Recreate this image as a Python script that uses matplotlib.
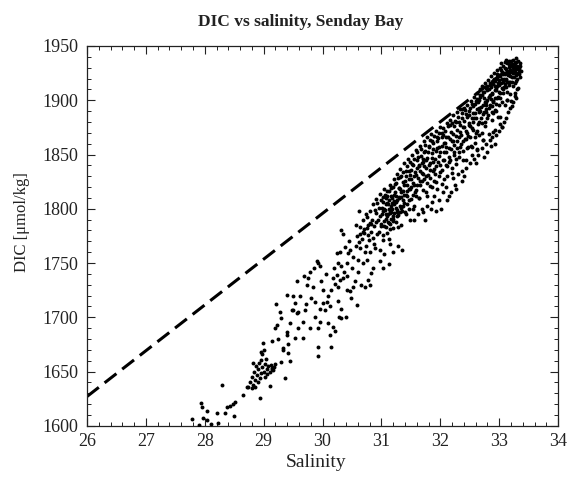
import matplotlib
matplotlib.use("Agg")
import matplotlib.pyplot as plt
from matplotlib.ticker import MultipleLocator

# puntos (salinidad, DIC [umol/kg])
bajos = [
    (27.78, 1606), (27.94, 1621), (27.95, 1617), (28.03, 1614), (27.97, 1607),
    (28.04, 1605), (28.22, 1603), (28.20, 1612), (28.29, 1638), (28.34, 1612),
    (28.38, 1617), (28.43, 1618), (28.48, 1620), (28.52, 1622), (28.50, 1609),
    (28.65, 1628), (28.71, 1636), (28.94, 1626), (28.10, 1602), (27.90, 1601),
]

grupo_29 = [
    (28.77, 1640), (28.80, 1645), (28.83, 1650), (28.85, 1642), (28.87, 1655),
    (28.88, 1647), (28.90, 1652), (28.92, 1658), (28.93, 1644), (28.95, 1649),
    (28.96, 1661), (28.97, 1654), (28.98, 1666), (29.00, 1650), (29.00, 1670),
    (29.02, 1645), (29.03, 1657), (29.05, 1652), (29.06, 1648), (29.08, 1655),
    (29.10, 1650), (29.12, 1656), (29.14, 1653), (29.16, 1651), (29.18, 1654),
    (28.86, 1636), (28.82, 1638), (28.90, 1640), (29.04, 1662), (28.95, 1668),
    (29.20, 1657), (29.10, 1637), (28.99, 1676), (28.73, 1636), (28.80, 1635),
    (29.14, 1652), (28.82, 1658),
]

medios = [
    (29.14, 1678), (29.19, 1690), (29.22, 1693), (29.21, 1712), (29.30, 1699),
    (29.39, 1686), (29.45, 1695), (29.48, 1707), (29.33, 1670), (29.41, 1667),
    (29.36, 1644), (29.30, 1659), (29.56, 1704), (29.56, 1733), (29.73, 1730),
    (29.76, 1736), (29.39, 1721), (29.53, 1713), (29.50, 1707), (29.59, 1705),
    (29.70, 1707), (29.39, 1684), (29.53, 1681), (29.67, 1681), (29.33, 1672),
    (29.42, 1675), (29.79, 1690), (29.93, 1690), (29.93, 1673), (29.81, 1718),
    (29.87, 1714), (29.96, 1708), (30.01, 1713), (30.07, 1714), (30.13, 1710),
    (30.04, 1707), (29.98, 1733), (30.01, 1725), (30.15, 1725), (30.21, 1731),
    (30.27, 1728), (30.18, 1736), (30.24, 1739), (30.30, 1734), (30.35, 1736),
    (30.41, 1725), (30.47, 1724), (30.49, 1718), (30.58, 1711), (30.32, 1708),
    (30.32, 1699), (30.18, 1691), (30.21, 1687), (30.13, 1684), (30.15, 1673),
    (29.96, 1747), (29.93, 1750), (30.24, 1759), (30.30, 1760), (30.27, 1750),
    (30.32, 1747), (30.41, 1750), (30.44, 1759), (30.47, 1762), (30.52, 1756),
    (30.61, 1753), (30.64, 1764), (30.35, 1777), (30.32, 1780), (30.64, 1777),
    (30.69, 1779), (30.75, 1782), (30.80, 1787), (30.66, 1730), (30.72, 1728),
    (30.78, 1734), (30.80, 1730), (30.83, 1741), (30.86, 1745), (30.75, 1753),
    (30.80, 1760), (30.89, 1764), (29.93, 1664), (29.85, 1745), (29.90, 1752),
    (29.78, 1742), (29.62, 1720), (29.68, 1738), (29.72, 1712), (29.84, 1728),
    (29.88, 1700), (30.05, 1740), (30.09, 1720), (30.10, 1695), (30.20, 1745),
    (30.26, 1715), (30.37, 1742), (30.38, 1765), (30.42, 1738), (30.45, 1770),
    (30.50, 1745), (30.55, 1733), (30.57, 1785), (30.60, 1742), (30.62, 1798),
    (30.68, 1750), (30.40, 1700), (30.52, 1728), (30.28, 1700), (29.96, 1696),
    (29.66, 1696), (29.58, 1690), (29.25, 1680), (29.28, 1705), (29.45, 1660),
    (29.50, 1720), (30.98, 1752), (31.05, 1758), (31.12, 1749), (31.20, 1760),
    (31.28, 1766), (31.35, 1762), (31.15, 1768), (31.02, 1745),
]

banda = [
    (30.56, 1766), (30.58, 1775), (30.62, 1769), (30.63, 1783), (30.67, 1772),
    (30.68, 1790), (30.71, 1778), (30.73, 1766), (30.74, 1795), (30.77, 1785),
    (30.79, 1771), (30.81, 1798), (30.82, 1779), (30.84, 1790), (30.86, 1804),
    (30.87, 1768), (30.88, 1784), (30.90, 1796), (30.91, 1809), (30.92, 1777),
    (30.94, 1790), (30.95, 1801), (30.97, 1814), (30.98, 1762), (30.99, 1784),
    (31.01, 1795), (31.02, 1806), (31.03, 1776), (31.04, 1789), (31.05, 1818),
    (31.06, 1799), (31.07, 1783), (31.08, 1810), (31.09, 1793), (31.11, 1804),
    (31.12, 1772), (31.13, 1787), (31.14, 1822), (31.15, 1798), (31.16, 1812),
    (31.17, 1791), (31.18, 1805), (31.19, 1782), (31.21, 1827), (31.22, 1796),
    (31.23, 1815), (31.24, 1801), (31.25, 1788), (31.26, 1832), (31.27, 1808),
    (31.28, 1794), (31.29, 1819), (31.31, 1803), (31.32, 1837), (31.33, 1811),
    (31.34, 1785), (31.35, 1798), (31.36, 1825), (31.37, 1816), (31.38, 1842),
    (31.39, 1805), (31.41, 1830), (31.42, 1795), (31.43, 1812), (31.44, 1822),
    (31.45, 1846), (31.46, 1808), (31.47, 1835), (31.48, 1818), (31.49, 1790),
    (31.51, 1827), (31.52, 1850), (31.53, 1813), (31.54, 1840), (31.55, 1822),
    (31.56, 1803), (31.57, 1834), (31.58, 1854), (31.59, 1817), (31.61, 1845),
    (31.62, 1828), (31.63, 1810), (31.64, 1839), (31.65, 1858), (31.66, 1822),
    (31.67, 1849), (31.68, 1833), (31.69, 1800), (31.71, 1843), (31.72, 1862),
    (31.73, 1827), (31.74, 1853), (31.75, 1815), (31.76, 1838), (31.77, 1866),
    (31.78, 1847), (31.79, 1831), (31.81, 1857), (31.82, 1821), (31.83, 1842),
    (31.84, 1869), (31.85, 1806), (31.86, 1851), (31.87, 1835), (31.88, 1861),
    (31.89, 1826), (31.91, 1846), (31.92, 1872), (31.93, 1839), (31.94, 1856),
    (31.95, 1818), (31.96, 1865), (31.97, 1830), (31.98, 1849), (31.99, 1875),
    (32.01, 1800), (32.02, 1858), (32.03, 1836), (32.04, 1868), (32.05, 1874),
    (32.06, 1845), (32.07, 1827), (32.08, 1861), (32.09, 1852), (32.11, 1879),
    (32.12, 1839), (32.13, 1866), (32.14, 1812), (32.15, 1856), (32.16, 1882),
    (32.17, 1845), (32.18, 1871), (32.19, 1833), (32.21, 1862), (32.22, 1886),
    (32.23, 1850), (32.24, 1876), (32.25, 1822), (32.26, 1867), (32.27, 1841),
    (32.28, 1889), (32.29, 1856), (32.31, 1880), (32.32, 1848), (32.33, 1871),
    (32.34, 1892), (32.35, 1860), (32.36, 1835), (32.37, 1884), (32.38, 1853),
    (32.39, 1875), (32.41, 1893), (32.42, 1864), (32.43, 1845), (32.44, 1887),
    (32.45, 1870), (32.46, 1896), (32.47, 1857), (32.48, 1879), (32.49, 1890),
    (32.51, 1866), (32.52, 1899), (32.53, 1884), (32.54, 1850), (32.55, 1895),
    (32.56, 1873), (32.57, 1903), (32.58, 1861), (32.59, 1888), (32.61, 1899),
    (32.62, 1855), (32.63, 1907), (32.64, 1878), (32.65, 1893), (32.66, 1868),
    (32.67, 1910), (32.68, 1903), (32.69, 1884), (32.71, 1913), (32.72, 1863),
    (32.73, 1896), (32.74, 1908), (32.75, 1876), (32.76, 1916), (32.77, 1889),
    (32.78, 1911), (32.79, 1900), (32.81, 1919), (32.82, 1869), (32.83, 1893),
    (32.84, 1914), (32.85, 1905), (32.86, 1922), (32.87, 1882), (32.88, 1917),
    (32.89, 1898), (32.91, 1925), (32.92, 1909), (32.93, 1873), (32.94, 1920),
    (32.95, 1890), (32.96, 1928), (32.97, 1913), (32.98, 1903), (32.99, 1923),
    (33.01, 1930), (33.02, 1885), (33.03, 1916), (33.04, 1926), (33.05, 1875),
    (33.06, 1907), (33.07, 1932), (33.08, 1920), (33.09, 1896), (33.11, 1929),
    (33.12, 1912), (33.13, 1934), (33.14, 1900), (33.15, 1923), (33.16, 1936),
    (33.17, 1917), (33.18, 1928), (33.19, 1906), (33.21, 1933), (33.22, 1921),
    (33.23, 1913), (33.24, 1937), (33.25, 1927), (33.26, 1904), (33.27, 1931),
    (33.28, 1918), (33.29, 1935), (33.31, 1925), (33.32, 1911), (33.33, 1930),
    (33.35, 1921), (33.36, 1934),
    # colas bajo el nucleo denso
    (32.54, 1857), (32.62, 1854), (32.72, 1863), (32.84, 1863), (32.90, 1871),
    (32.98, 1885), (33.05, 1875), (33.13, 1900), (33.27, 1916), (33.27, 1907),
    (33.20, 1899), (33.22, 1895),
]

banda_2 = [
    (30.70, 1781), (30.72, 1760), (30.76, 1792), (30.78, 1776), (30.83, 1786),
    (30.85, 1773), (30.89, 1799), (30.90, 1788), (30.93, 1805), (30.96, 1779),
    (30.97, 1793), (31.00, 1808), (31.00, 1786), (31.02, 1771), (31.04, 1800),
    (31.06, 1813), (31.07, 1791), (31.09, 1778), (31.10, 1805), (31.11, 1795),
    (31.13, 1816), (31.14, 1781), (31.16, 1797), (31.18, 1810), (31.19, 1820),
    (31.20, 1789), (31.22, 1804), (31.24, 1824), (31.25, 1812), (31.27, 1797),
    (31.28, 1783), (31.30, 1819), (31.31, 1829), (31.33, 1801), (31.34, 1815),
    (31.36, 1808), (31.37, 1834), (31.39, 1822), (31.40, 1797), (31.41, 1813),
    (31.43, 1839), (31.44, 1804), (31.46, 1827), (31.47, 1818), (31.48, 1843),
    (31.50, 1809), (31.51, 1836), (31.53, 1824), (31.54, 1800), (31.56, 1846),
    (31.57, 1815), (31.59, 1831), (31.60, 1852), (31.61, 1822), (31.63, 1840),
    (31.64, 1810), (31.66, 1835), (31.67, 1855), (31.69, 1826), (31.70, 1846),
    (31.71, 1817), (31.73, 1839), (31.74, 1859), (31.76, 1830), (31.77, 1812),
    (31.79, 1852), (31.80, 1840), (31.82, 1863), (31.83, 1828), (31.85, 1847),
    (31.86, 1820), (31.88, 1855), (31.89, 1867), (31.90, 1837), (31.92, 1853),
    (31.93, 1825), (31.95, 1862), (31.96, 1843), (31.98, 1870), (31.99, 1834),
    (32.00, 1852), (32.02, 1866), (32.03, 1823), (32.05, 1845), (32.06, 1861),
    (32.08, 1872), (32.09, 1840), (32.10, 1857), (32.12, 1830), (32.13, 1876),
    (32.15, 1848), (32.16, 1864), (32.18, 1855), (32.19, 1879), (32.20, 1838),
    (32.22, 1869), (32.23, 1859), (32.25, 1881), (32.26, 1846), (32.28, 1873),
    (32.29, 1862), (32.30, 1885), (32.32, 1852), (32.33, 1877), (32.35, 1868),
    (32.36, 1888), (32.38, 1845), (32.39, 1862), (32.40, 1881), (32.42, 1891),
    (32.43, 1872), (32.45, 1856), (32.46, 1885), (32.47, 1867), (32.49, 1877),
    (32.50, 1893), (32.52, 1858), (32.53, 1874), (32.55, 1888), (32.56, 1880),
    (32.58, 1897), (32.59, 1866), (32.60, 1884), (32.62, 1901), (32.63, 1872),
    (32.65, 1889), (32.66, 1880), (32.67, 1905), (32.69, 1894), (32.70, 1870),
    (32.72, 1887), (32.73, 1908), (32.75, 1898), (32.76, 1880), (32.78, 1892),
    (32.79, 1913), (32.81, 1886), (32.82, 1903), (32.84, 1896), (32.85, 1916),
    (32.87, 1889), (32.88, 1907), (32.90, 1899), (32.91, 1920), (32.93, 1891),
    (32.94, 1911), (32.96, 1902), (32.97, 1924), (32.99, 1896), (33.00, 1919),
    (33.02, 1907), (33.03, 1934), (33.05, 1898), (33.06, 1924), (33.08, 1912),
    (33.09, 1935), (33.11, 1919), (33.13, 1927), (33.14, 1908), (33.17, 1933),
    (33.19, 1926), (33.21, 1917), (33.23, 1930), (33.25, 1921), (33.27, 1926),
    (33.29, 1939), (33.31, 1929), (33.33, 1924), (33.35, 1932), (33.37, 1927),
]

borde_inferior = [
    (31.55, 1790), (31.62, 1795), (31.70, 1797), (31.78, 1803), (31.84, 1800),
    (31.90, 1812), (31.97, 1808), (32.04, 1815), (32.10, 1820), (32.18, 1815),
    (32.22, 1828), (32.30, 1832), (32.37, 1826), (32.44, 1838), (32.50, 1842),
    (32.57, 1846), (32.64, 1850), (32.70, 1856), (32.77, 1860), (32.80, 1852),
    (32.88, 1866), (32.95, 1868), (33.00, 1872), (33.08, 1880), (33.15, 1889),
    (33.18, 1893), (33.24, 1898), (33.28, 1902), (33.30, 1910), (33.12, 1884),
    (33.02, 1878), (32.92, 1860), (32.86, 1858), (32.74, 1848), (32.60, 1842),
    (32.40, 1830), (32.27, 1818), (32.12, 1808), (31.93, 1798), (31.74, 1790),
]

nucleo = [
    (32.62, 1892), (32.66, 1900), (32.70, 1905), (32.74, 1889), (32.78, 1898),
    (32.80, 1909), (32.83, 1903), (32.86, 1912), (32.88, 1906), (32.90, 1915),
    (32.92, 1918), (32.95, 1909), (32.97, 1921), (33.00, 1914), (33.02, 1922),
    (33.03, 1928), (33.06, 1917), (33.08, 1925), (33.10, 1930), (33.12, 1920),
    (33.14, 1926), (33.16, 1931), (33.18, 1922), (33.20, 1927), (33.22, 1932),
    (33.24, 1925), (33.26, 1934), (33.28, 1929), (33.30, 1932), (33.32, 1936),
    (33.34, 1928), (33.10, 1915), (33.05, 1911), (32.99, 1908), (32.93, 1902),
    (32.87, 1895), (33.16, 1914), (33.30, 1920), (33.20, 1936), (33.12, 1937),
    (31.03, 1798), (31.08, 1795), (31.12, 1800), (31.17, 1803), (31.21, 1807),
    (31.26, 1799), (31.30, 1810), (31.10, 1812), (31.20, 1793), (31.15, 1786),
    (31.01, 1801), (31.03, 1811), (31.05, 1784), (31.07, 1804), (31.09, 1816),
    (31.11, 1788), (31.12, 1808), (31.14, 1796), (31.16, 1819), (31.18, 1800),
    (31.19, 1791), (31.21, 1813), (31.23, 1823), (31.25, 1806), (31.26, 1793),
    (31.28, 1828), (31.29, 1811), (31.31, 1797), (31.32, 1818), (31.34, 1830),
    (31.36, 1803), (31.38, 1813), (31.40, 1826), (31.42, 1835), (31.44, 1816),
    (31.46, 1800), (31.49, 1831), (31.50, 1820), (31.52, 1841), (31.55, 1830),
    (31.58, 1812), (31.60, 1838), (31.62, 1848), (31.65, 1826), (31.68, 1842),
    (31.70, 1832), (31.72, 1852), (31.75, 1845), (31.78, 1824), (31.80, 1858),
    (31.83, 1836), (31.86, 1862), (31.88, 1843), (31.91, 1832), (31.94, 1866),
    (31.97, 1857), (32.00, 1840), (32.03, 1870), (32.07, 1852), (32.10, 1866),
    (32.14, 1843), (32.17, 1877), (32.20, 1862), (32.24, 1852), (32.27, 1880),
    (32.31, 1866), (32.34, 1857), (32.37, 1892), (32.41, 1875), (32.44, 1864),
    (32.48, 1886), (32.51, 1876), (32.54, 1897), (32.57, 1884), (32.61, 1870),
    (32.64, 1898), (32.68, 1890), (32.71, 1879), (32.74, 1902), (32.77, 1896),
    (32.80, 1884), (32.83, 1910), (32.86, 1901), (32.89, 1888), (32.92, 1913),
    (32.95, 1897), (32.98, 1916), (33.01, 1902), (33.04, 1920), (33.07, 1910),
    (33.10, 1924), (33.13, 1917), (33.16, 1925), (33.19, 1917), (33.22, 1926),
    (33.25, 1933), (33.28, 1923),
]

# linea de mezcla conservativa (discontinua)
sal_mezcla = [26.0, 33.3]
dic_mezcla = [1627, 1935]

puntos = bajos + grupo_29 + medios + banda + banda_2 + borde_inferior + nucleo
sal = [p[0] for p in puntos]
dic = [p[1] for p in puntos]

plt.rcParams["font.family"] = ["Liberation Serif", "DejaVu Serif"]
color_txt = "#222222"

fig = plt.figure(figsize=(5.76, 4.79), dpi=100)
ax = fig.add_axes([0.151, 0.111, 0.818, 0.793])

ax.plot(sal_mezcla, dic_mezcla, color="black", lw=2.2, ls=(0, (4.9, 2.4)),
        dash_capstyle="butt", zorder=2)
ax.scatter(sal, dic, s=8, color="black", marker="o", linewidths=0, zorder=3)

ax.set_xlim(26, 34)
ax.set_ylim(1600, 1950)
ax.xaxis.set_major_locator(MultipleLocator(1))
ax.xaxis.set_minor_locator(MultipleLocator(0.2))
ax.yaxis.set_major_locator(MultipleLocator(50))
ax.yaxis.set_minor_locator(MultipleLocator(10))
ax.tick_params(which="both", direction="in", top=True, right=True,
               colors=color_txt, labelsize=13)
ax.tick_params(which="major", length=6, width=0.8)
ax.tick_params(which="minor", length=3, width=0.7)
ax.tick_params(axis="y", which="major", pad=6)
ax.tick_params(axis="x", which="major", pad=5)
for sp in ax.spines.values():
    sp.set_color(color_txt)
    sp.set_linewidth(0.9)

ax.set_xlabel("Salinity", fontsize=14, color=color_txt, labelpad=3, x=0.486)
ax.set_ylabel("DIC [μmol/kg]", fontsize=12, color=color_txt, labelpad=9,
              y=0.537)
ax.set_title("DIC vs salinity, Senday Bay", fontsize=12.5, fontweight="bold",
             color=color_txt, pad=14.5, x=0.454)

fig.savefig("out.png", dpi=100)
